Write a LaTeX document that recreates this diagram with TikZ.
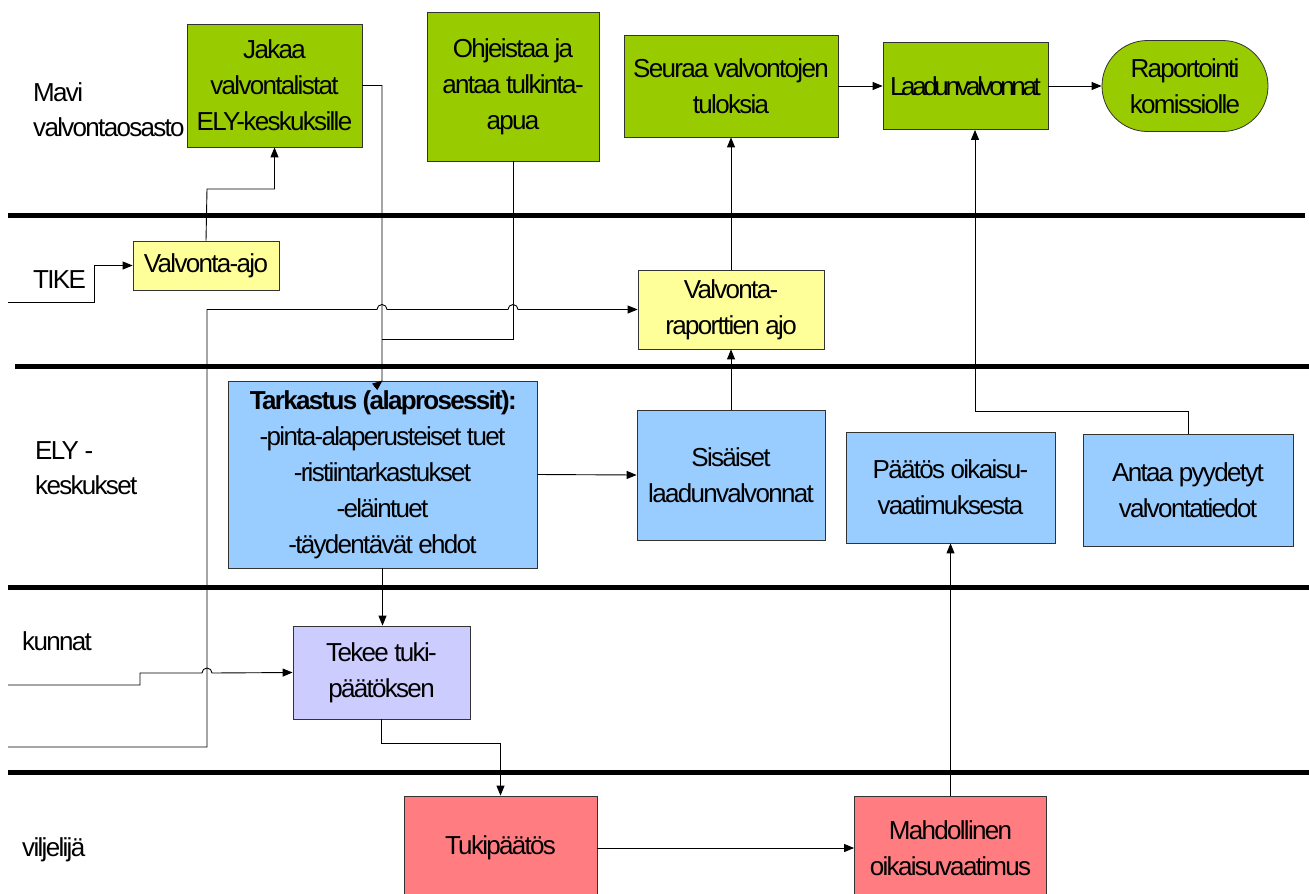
\documentclass[tikz,border=0pt]{standalone}
\usepackage{fontspec}
\setmainfont[LetterSpace=-6.5]{Liberation Sans}
\newfontfamily\tightfont[LetterSpace=-13]{Liberation Sans}
\usetikzlibrary{arrows.meta,shapes.misc}
\definecolor{cgreen}{HTML}{99CC00}
\definecolor{cyellow}{HTML}{FFFF99}
\definecolor{cblue}{HTML}{99CCFF}
\definecolor{clav}{HTML}{CCCCFF}
\definecolor{cred}{HTML}{FF7C80}
\tikzset{
  box/.style={draw=black!80, line width=0.8pt, inner sep=0pt, align=center,
    font=\fontsize{26}{36}\selectfont},
  lanelabel/.style={anchor=west, align=left, inner sep=0pt, font=\fontsize{26}{35}\selectfont},
  lane/.style={line width=5pt},
  conn/.style={line width=0.9pt},
  arr/.style={conn, -{Triangle[length=10pt,width=8pt]}},
}
\begin{document}
\begin{tikzpicture}[x=1pt,y=-1pt]
\useasboundingbox (0,0) rectangle (1309,894);
\clip (0,0) rectangle (1309,894);
\fill[white] (0,0) rectangle (1309,894);

% lane separators
\draw[lane] (8,215) -- (1305,215);
\draw[lane] (15,366) -- (1309,366);
\draw[lane] (8,587) -- (1309,587);
\draw[lane] (8,772) -- (1309,772);

% lane labels
\node[lanelabel] (l1) at (33,110) {Mavi\\valvontaosasto};
\node[lanelabel] (l2) at (33,280) {TIKE};
\node[lanelabel] (l3) at (35,468) {ELY -\\keskukset};
\node[lanelabel] (l4) at (22,641) {kunnat};
\node[lanelabel] (l5) at (22,850) {viljelijä};

% green boxes
\node[box, fill=cgreen, minimum width=175pt, minimum height=123pt] (jakaa) at (274.5,85.5) {Jakaa\\valvontalistat\\ELY-keskuksille};
\node[box, fill=cgreen, minimum width=172pt, minimum height=149pt] (ohje) at (513,86.5) {Ohjeistaa ja\\antaa tulkinta-\\apua};
\node[box, fill=cgreen, minimum width=214pt, minimum height=102pt] (seura) at (731,86) {Seuraa valvontojen\\tuloksia};
\node[box, fill=cgreen, minimum width=165pt, minimum height=87pt] (laadun) at (965.5,86) {\tightfont Laadunvalvonnat};
\node[box, fill=cgreen, rounded rectangle, minimum width=166pt, minimum height=91pt] (rap) at (1185,86) {Raportointi\\komissiolle};

% yellow boxes
\node[box, fill=cyellow, minimum width=146pt, minimum height=49pt] (ajo) at (206,265.5) {Valvonta-ajo};
\node[box, fill=cyellow, minimum width=186pt, minimum height=79pt] (raport) at (731,309.5) {Valvonta-\\raporttien ajo};

% blue boxes
\node[box, fill=cblue, minimum width=309pt, minimum height=187pt] (tark) at (382.5,474.5) {\textbf{Tarkastus (alaprosessit):}\\-pinta-alaperusteiset tuet\\-ristiintarkastukset\\-eläintuet\\-täydentävät ehdot};
\node[box, fill=cblue, minimum width=188pt, minimum height=130pt] (sis) at (731,475) {Sisäiset\\laadunvalvonnat};
\node[box, fill=cblue, minimum width=209pt, minimum height=111pt] (paatos) at (950.5,487.5) {Päätös oikaisu-\\vaatimuksesta};
\node[box, fill=cblue, minimum width=210pt, minimum height=112pt] (antaa) at (1188,490) {Antaa pyydetyt\\valvontatiedot};

% lavender
\node[box, fill=clav, minimum width=177pt, minimum height=93pt] (tekee) at (381.5,672.5) {Tekee tuki-\\päätöksen};

% red
\node[box, fill=cred, minimum width=193pt, minimum height=104pt] (tuki) at (500.5,848) {Tukipäätös};
\node[box, fill=cred, minimum width=192pt, minimum height=104pt] (mahd) at (950.5,848) {Mahdollinen\\oikaisuvaatimus};

% free ends
\coordinate (tikein) at (8,302);
\coordinate (kunin) at (8,685);
\coordinate (repin) at (8,747);

% connectors
\draw[arr] (tikein) -- (94,302) -- (94,265.5) -- (ajo.west);
\draw[arr] (ajo.north) -- (207,189) -- (274.5,189) -- (jakaa.south);
\draw[arr] (jakaa.east) -- (382,85.5) -- (382,381) -- (tark.north);
\draw[conn] (ohje.south) -- (513,339) -- (382,339);
\draw[arr] (repin) -- (207,747) -- (207,309.5) -- (377,309.5) arc (180:360:5) -- (508,309.5) arc (180:360:5) -- (raport.west);
\draw[arr] (kunin) -- (140,685) -- (140,673) -- (202,673) arc (180:360:5) -- (tekee.west);
\draw[arr] (tark.south) -- (tark.south |- tekee.north);
\draw[arr] (tekee.south) -- (381.5,743) -- (500.5,743) -- (tuki.north);
\draw[arr] (tuki.east |- 0,848) -- (mahd.west);
\draw[arr] (mahd.north) -- (paatos.south);
\draw[arr] (tark.east) -- (sis.west);
\draw[arr] (sis.north) -- (raport.south);
\draw[arr] (raport.north) -- (seura.south);
\draw[arr] (antaa.north) -- (1188,411) -- (975,411) -- (975,0 |- laadun.south);
\draw[arr] (seura.east) -- (laadun.west);
\draw[arr] (laadun.east) -- (rap.west);
\end{tikzpicture}
\end{document}
